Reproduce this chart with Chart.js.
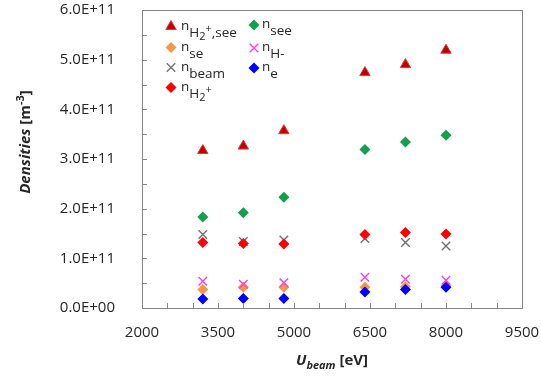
<!DOCTYPE html>
<html>
<head>
<meta charset="utf-8">
<script src="https://cdn.jsdelivr.net/npm/chart.js@4.4.1/dist/chart.umd.min.js"></script>
<style>
  html, body { margin: 0; padding: 0; background: #fff; }
  #wrap { width: 541px; height: 376px; }
</style>
</head>
<body>
<div id="wrap"><canvas id="densities"></canvas></div>
<script>
// beam energy [eV] and measured densities [m^-3]
const uBeam   = [3200, 4000, 4800, 6400, 7200, 8000];
const nH2pSee = [3.17e11, 3.26e11, 3.57e11, 4.74e11, 4.90e11, 5.19e11];
const nSee    = [1.83e11, 1.92e11, 2.23e11, 3.19e11, 3.34e11, 3.48e11];
const nSe     = [0.37e11, 0.42e11, 0.42e11, 0.42e11, 0.43e11, 0.45e11];
const nHm     = [0.54e11, 0.48e11, 0.51e11, 0.62e11, 0.58e11, 0.56e11];
const nBeam   = [1.48e11, 1.34e11, 1.37e11, 1.40e11, 1.32e11, 1.25e11];
const nE      = [0.18e11, 0.19e11, 0.19e11, 0.32e11, 0.37e11, 0.42e11];
const nH2p    = [1.32e11, 1.30e11, 1.29e11, 1.48e11, 1.52e11, 1.49e11];

const xTickLabels = ['2000', '3500', '5000', '6500', '8000', '9500'];
const yTickLabels = ['0.0E+00', '1.0E+11', '2.0E+11', '3.0E+11', '4.0E+11', '5.0E+11', '6.0E+11'];

const FONT = '"Open Sans", sans-serif';
const AXIS_GREY = '#868686';

function pts(ys) {
    return uBeam.map((x, i) => ({ x, y: ys[i] }));
}

// series styles; later entries are drawn on top
const series = [
    { key: 'h2psee', data: nH2pSee, style: 'triangle', r: 6, fill: '#c00000', line: '#e0383c', bw: 1 },
    { key: 'see',    data: nSee,    style: 'rectRot',  r: 5.5, fill: '#12a04c', line: '#12a04c', bw: 0 },
    { key: 'se',     data: nSe,     style: 'rectRot',  r: 5.5, fill: '#f79646', line: '#f79646', bw: 0 },
    { key: 'hm',     data: nHm,     style: 'crossRot', r: 6, fill: '#ff3fd5', line: '#ff3fd5', bw: 1.4 },
    { key: 'beam',   data: nBeam,   style: 'crossRot', r: 6, fill: '#707070', line: '#707070', bw: 1.4 },
    { key: 'e',      data: nE,      style: 'rectRot',  r: 5.5, fill: '#0000ff', line: '#0000ff', bw: 0 },
    { key: 'h2p',    data: nH2p,    style: 'rectRot',  r: 5.5, fill: '#ff0000', line: '#ff0000', bw: 0 },
];

// legend text pieces: dy is the baseline shift, s the font size
const legendItems = [
    { key: 'h2psee', col: 0, row: 26.5, parts: [{ t: 'n' }, { t: 'H', dy: 7 }, { t: '2', dy: 10, s: 11 }, { t: '+', dy: 2, s: 11 }, { t: ',see', dy: 7 }] },
    { key: 'se',     col: 0, row: 47.5, parts: [{ t: 'n' }, { t: 'se', dy: 7 }] },
    { key: 'beam',   col: 0, row: 67.5, parts: [{ t: 'n' }, { t: 'beam', dy: 7 }] },
    { key: 'h2p',    col: 0, row: 87.5, parts: [{ t: 'n' }, { t: 'H', dy: 7 }, { t: '2', dy: 10, s: 11 }, { t: '+', dy: 2, s: 11 }] },
    { key: 'see',    col: 1, row: 25,   parts: [{ t: 'n' }, { t: 'see', dy: 7 }] },
    { key: 'hm',     col: 1, row: 48,   parts: [{ t: 'n' }, { t: 'H-', dy: 7 }] },
    { key: 'e',      col: 1, row: 68,   parts: [{ t: 'n' }, { t: 'e', dy: 7 }] },
];
const legendCols = [{ mark: 171, text: 181 }, { mark: 254, text: 262 }];

function drawRich(ctx, parts, x, y, base) {
    let cx = x;
    parts.forEach(p => {
        ctx.font = `${p.italic ? 'italic ' : ''}${p.bold ? 'bold ' : ''}${p.s || base}px ${FONT}`;
        ctx.fillText(p.t, cx, y + (p.dy || 0));
        cx += ctx.measureText(p.t).width;
    });
}

function richWidth(ctx, parts, base) {
    let w = 0;
    parts.forEach(p => {
        ctx.font = `${p.italic ? 'italic ' : ''}${p.bold ? 'bold ' : ''}${p.s || base}px ${FONT}`;
        w += ctx.measureText(p.t).width;
    });
    return w;
}

const frame = {
    id: 'frame',
    afterDraw(chart) {
        const { ctx, chartArea: a, scales } = chart;
        ctx.save();
        // plot box
        ctx.strokeStyle = AXIS_GREY;
        ctx.lineWidth = 1;
        ctx.strokeRect(Math.round(a.left) + 0.5, Math.round(a.top) + 0.5,
            Math.round(a.right - a.left), Math.round(a.bottom - a.top));

        // inward tick marks every 500 eV and 0.5E+11
        ctx.beginPath();
        for (let v = 2500; v < 9500; v += 500) {
            const px = Math.round(scales.x.getPixelForValue(v)) + 0.5;
            ctx.moveTo(px, a.bottom);
            ctx.lineTo(px, a.bottom - 5);
        }
        for (let v = 0.5e11; v < 6e11; v += 0.5e11) {
            const py = Math.round(scales.y.getPixelForValue(v)) + 0.5;
            ctx.moveTo(a.left, py);
            ctx.lineTo(a.left + 5, py);
        }
        ctx.stroke();

        // legend
        ctx.textBaseline = 'alphabetic';
        legendItems.forEach(item => {
            const s = series.find(d => d.key === item.key);
            const col = legendCols[item.col];
            ctx.fillStyle = s.fill;
            ctx.strokeStyle = s.line;
            ctx.lineWidth = s.bw;
            Chart.helpers.drawPoint(ctx, { pointStyle: s.style, radius: s.r, rotation: 0, borderWidth: s.bw },
                col.mark, item.row);
            ctx.fillStyle = '#262626';
            drawRich(ctx, item.parts, col.text, item.row + 3, 13.5);
        });

        // axis titles
        ctx.fillStyle = '#262626';
        const xt = [{ t: 'U', italic: true, bold: true }, { t: 'beam', italic: true, bold: true, s: 11, dy: 4 }, { t: ' [eV]', bold: true }];
        const xw = richWidth(ctx, xt, 15);
        drawRich(ctx, xt, (a.left + a.right) / 2 - xw / 2, 365, 15);

        const yt = [{ t: 'Densities', italic: true, bold: true }, { t: ' [m', bold: true }, { t: '-3', bold: true, s: 11, dy: -6 }, { t: ']', bold: true }];
        const yw = richWidth(ctx, yt, 15);
        ctx.translate(30, 142);
        ctx.rotate(-Math.PI / 2);
        drawRich(ctx, yt, -yw / 2, 0, 15);
        ctx.restore();
    }
};

// fixed axis boxes, without the extra room Chart.js reserves for edge labels
function fixX(s) {
    s.height = 68;
    s.paddingLeft = 0;
    s.paddingRight = 0;
}
function fixY(s) {
    s.width = 142;
    s.paddingTop = 0;
    s.paddingBottom = 0;
}

new Chart(document.getElementById('densities'), {
    type: 'scatter',
    data: {
        datasets: series.map((s, i) => ({
            label: s.key,
            data: pts(s.data),
            order: series.length - i,
            pointStyle: s.style,
            pointRadius: s.r,
            pointHoverRadius: s.r,
            backgroundColor: s.fill,
            borderColor: s.line,
            borderWidth: s.bw,
        })),
    },
    options: {
        responsive: true, maintainAspectRatio: false, animation: false,
        layout: { padding: { top: 10, right: 19, left: 0, bottom: 0 } },
        plugins: { legend: { display: false }, tooltip: { enabled: false } },
        scales: {
            x: {
                type: 'linear', min: 2000, max: 9500,
                grid: { display: false },
                border: { display: false },
                afterFit: fixX,
                ticks: { stepSize: 1500, padding: 8, color: '#262626', font: { family: FONT, size: 15 },
                    maxRotation: 0, callback: (v, i) => xTickLabels[i] },
            },
            y: {
                min: 0, max: 6e11,
                grid: { display: false },
                border: { display: false },
                afterFit: fixY,
                ticks: { stepSize: 1e11, padding: 19, color: '#262626', font: { family: FONT, size: 15 },
                    callback: (v, i) => yTickLabels[i] },
            },
        },
    },
    plugins: [frame],
});
</script>
</body>
</html>
